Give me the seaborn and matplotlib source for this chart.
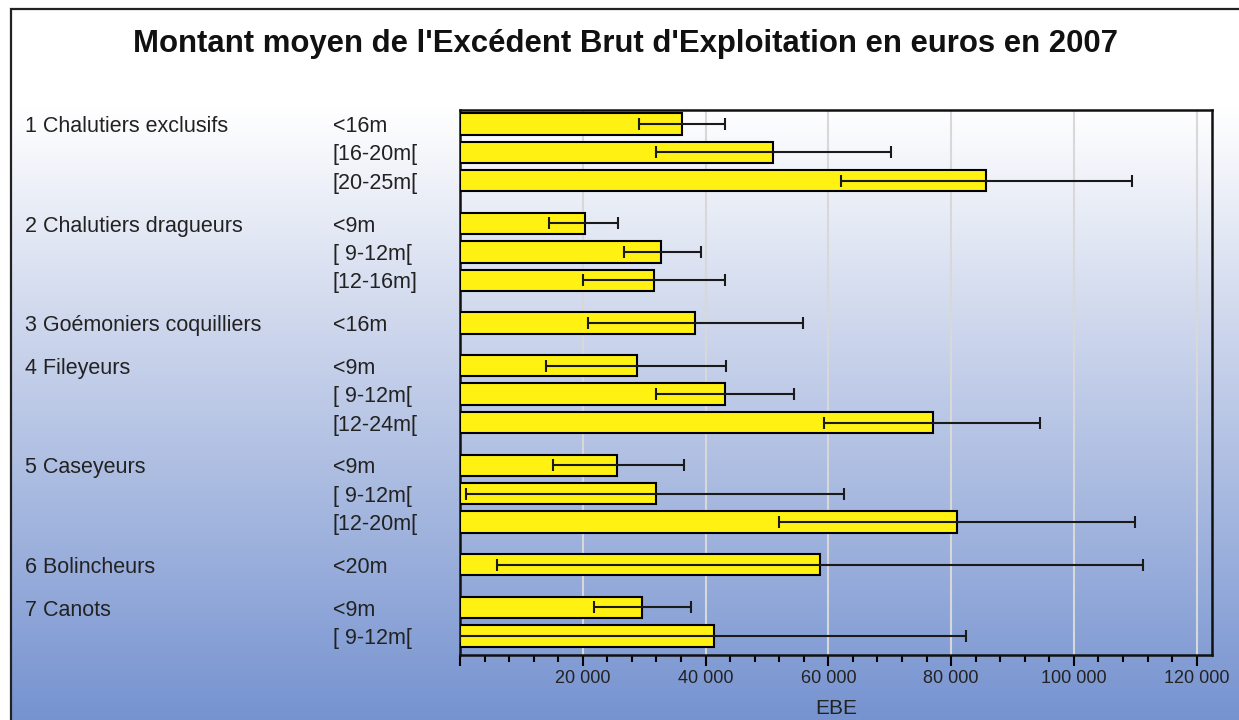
import numpy as np
import pandas as pd
import matplotlib
matplotlib.use("Agg")
import matplotlib.pyplot as plt
import matplotlib.patches as mpatches
from matplotlib.ticker import MultipleLocator, FuncFormatter
from matplotlib.transforms import blended_transform_factory
import seaborn as sns

# ---------------- data ----------------
groups = ["1 Chalutiers exclusifs", "2 Chalutiers dragueurs", "3 Goémoniers coquilliers",
          "4 Fileyeurs", "5 Caseyeurs", "6 Bolincheurs", "7 Canots"]
group_sizes = [
    ["<16m", "[16-20m[", "[20-25m["],
    ["<9m", "[ 9-12m[", "[12-16m]"],
    ["<16m"],
    ["<9m", "[ 9-12m[", "[12-24m["],
    ["<9m", "[ 9-12m[", "[12-20m["],
    ["<20m"],
    ["<9m", "[ 9-12m["],
]
ebe_mean = [36200, 51000, 85700,
            20400, 32800, 31600,
            38300,
            28900, 43100, 77000,
            25500, 32000, 80900,
            58600,
            29700, 41400]
ebe_low = [29200, 31900, 62000,
           14500, 26700, 20100,
           20900,
           14000, 31900, 59300,
           15200, 900, 51900,
           6100,
           21900, 0]
ebe_high = [43100, 70200, 109400,
            25800, 39200, 43100,
            55900,
            43400, 54400, 94500,
            36500, 62600, 110000,
            111300,
            37700, 82400]
x_ticks = [0, 20000, 40000, 60000, 80000, 100000, 120000]
title = "Montant moyen de l'Excédent Brut d'Exploitation en euros en 2007"
x_label = "EBE"

# ---------------- layout of rows (group gap) ----------------
positions = []
labels = []
group_first = []
p = 0.0
for gi, sizes in enumerate(group_sizes):
    group_first.append(p)
    for s in sizes:
        positions.append(p)
        labels.append(s)
        p += 1.0
    p += 0.5

df = pd.DataFrame({"pos": positions, "ebe": ebe_mean, "size": labels})

plt.rcParams["font.family"] = ["Liberation Sans", "DejaVu Sans"]

W, H = 1239, 720
fig = plt.figure(figsize=(W / 100, H / 100), dpi=100)
fig.patch.set_facecolor("white")

# gradient background
bg = fig.add_axes([11 / W, 0, 1 - 11 / W, 1 - 9 / H], zorder=-10)
yy = np.linspace(0, 1, 400)
top_c = np.array([255, 255, 255]) / 255
mid_c = np.array([205, 214, 236]) / 255
bot_c = np.array([118, 147, 208]) / 255
cols = []
for t in yy:
    if t < 0.14:
        c = top_c
    elif t < 0.45:
        f = (t - 0.14) / 0.31
        c = top_c * (1 - f) + mid_c * f
    else:
        f = (t - 0.45) / 0.55
        c = mid_c * (1 - f) + bot_c * f
    cols.append(c)
grad = np.array(cols)[:, None, :]
bg.imshow(grad, aspect="auto", extent=[0, 1, 1, 0])
bg.set_xlim(0, 1)
bg.set_ylim(1, 0)
bg.axis("off")

# outer frame
fig.patches.append(mpatches.Rectangle((11 / W, -0.1), 1.2, (H - 9) / H + 0.1,
                                      transform=fig.transFigure, fill=False,
                                      edgecolor="#222222", linewidth=1.6, zorder=5))

ax = fig.add_axes([460 / W, 1 - 655 / H, (1212 - 460) / W, (655 - 110) / H])
ax.patch.set_alpha(0)

sns.barplot(data=df, x="ebe", y="pos", orient="h", native_scale=True,
            color="#FFF212", saturation=1, edgecolor="black", linewidth=1.5,
            width=0.75, errorbar=None, ax=ax, zorder=3)

m = np.array(ebe_mean)
lo = np.array(ebe_low)
hi = np.array(ebe_high)
ax.errorbar(m, positions, xerr=[m - lo, hi - m], fmt="none", ecolor="#1a1a1a",
            elinewidth=1.5, capsize=4.5, capthick=1.5, zorder=4)

ax.set_xlim(0, 122500)
ax.set_ylim(18.67, -0.49)
ax.set_xticks(x_ticks)
ax.xaxis.set_minor_locator(MultipleLocator(4000))
ax.xaxis.set_major_formatter(FuncFormatter(
    lambda v, _: "" if v == 0 else f"{int(v):,}".replace(",", " ")))
ax.tick_params(axis="x", which="major", length=8, width=1.5, labelsize=13,
               colors="black", pad=2.5, labelcolor="#222222")
ax.tick_params(axis="x", which="minor", length=5, width=1.5)
ax.set_yticks([])
ax.set_ylabel("")
ax.set_xlabel(x_label, fontsize=15, color="#222222", labelpad=9)
ax.grid(axis="x", which="major", color="#d8d8d8", linewidth=1.5, zorder=0)
ax.set_axisbelow(True)
for sp in ax.spines.values():
    sp.set_linewidth(1.8)
    sp.set_color("#111111")

# row and group labels
tr = blended_transform_factory(fig.transFigure, ax.transData)
dy = 0.09
for pos, lab in zip(positions, labels):
    ax.text(333 / W, pos + dy, lab, transform=tr, va="center", ha="left",
            fontsize=15.5, color="#222222", clip_on=False)
for g, gp in zip(groups, group_first):
    ax.text(25 / W, gp + dy, g, transform=tr, va="center", ha="left",
            fontsize=15.5, color="#222222", clip_on=False)

fig.text(625 / W, 1 - 44 / H, title, ha="center", va="center",
         fontsize=22.4, fontweight="bold", color="#111111")

fig.savefig("out.png", dpi=100)
